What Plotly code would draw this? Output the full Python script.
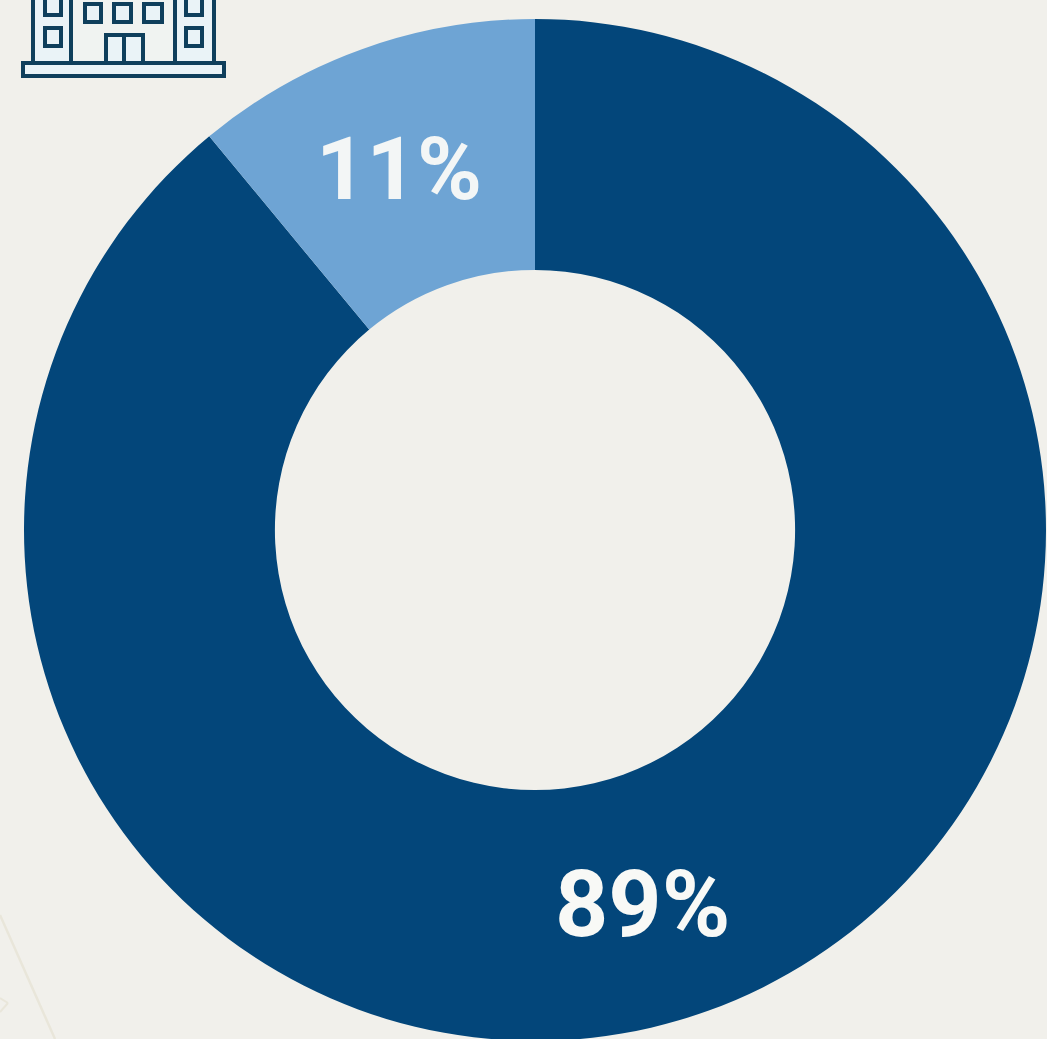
import plotly.graph_objects as go

W, H = 1047, 1039
labels = ["Majority", "Minority"]
values = [89, 11]
colors = ["#03467a", "#6ea4d4"]
texts = ["89%", "11%"]
BG = "#f1f0eb"
ICON = "#0f3f5c"
ICON_FILL = "#eaf3f7"

# The ring is slightly clipped at the bottom of the page
CX, CY, R = 535, 530, 511
FH = CY + R + 1

def px(x): return x / W
def py(y): return 1 - y / FH

fig = go.Figure(go.Pie(
    labels=labels, values=values, hole=0.509, sort=False, direction="clockwise",
    rotation=0, marker=dict(colors=colors, line=dict(width=0)), textinfo="none",
    showlegend=False, hoverinfo="label+percent",
    domain=dict(x=[px(CX - R), px(CX + R)], y=[py(CY + R), py(CY - R)]),
))

def rect(x0, y0, x1, y1, w=4, fill=ICON_FILL):
    return dict(type="rect", xref="paper", yref="paper", x0=px(x0), x1=px(x1), y0=py(y0), y1=py(y1),
                line=dict(color=ICON, width=w), fillcolor=fill)

def line(x0, y0, x1, y1, color=ICON, w=4):
    return dict(type="line", xref="paper", yref="paper", x0=px(x0), x1=px(x1), y0=py(y0), y1=py(y1),
                line=dict(color=color, width=w))

shapes = [
    line(0, 915, 55, 1039, "#e9e6da", 2.5),
    line(0, 998, 8, 1003, "#e9e6da", 2),
    line(8, 1003, 0, 1012, "#e9e6da", 2),
    rect(33, -6, 71, 63, fill=ICON_FILL),
    rect(71, -6, 175, 63, fill="#f0f3f1"),
    rect(175, -6, 214, 63, fill=ICON_FILL),
    rect(45, -3, 61, 15), rect(45, 28, 61, 46),
    rect(186, -3, 202, 15), rect(186, 28, 202, 46),
    rect(85, 4, 101, 22), rect(114, 4, 131, 22), rect(144, 4, 162, 22),
    rect(106, 35, 143, 63), line(124, 35, 124, 63),
    rect(23, 63, 224, 76),
]

annotations = [
    dict(text=texts[0], x=px(642), y=py(904), xref="paper", yref="paper", showarrow=False,
         xanchor="center", yanchor="middle", font=dict(family="Roboto", size=93, color="#f8f9f6", weight=700)),
    dict(text=texts[1], x=px(399), y=py(168), xref="paper", yref="paper", showarrow=False,
         xanchor="center", yanchor="middle", font=dict(family="Roboto", size=88, color="#f3f6f6", weight=700)),
]

fig.update_layout(width=W, height=FH, margin=dict(l=0, r=0, t=0, b=0), paper_bgcolor=BG,
                  plot_bgcolor=BG, shapes=shapes, annotations=annotations)
fig.write_html("out.html", config=dict(displayModeBar=False),
               post_script="document.documentElement.style.overflow='hidden';document.body.style.margin='0';document.body.style.overflow='hidden';document.documentElement.style.background='#f1f0eb';")
